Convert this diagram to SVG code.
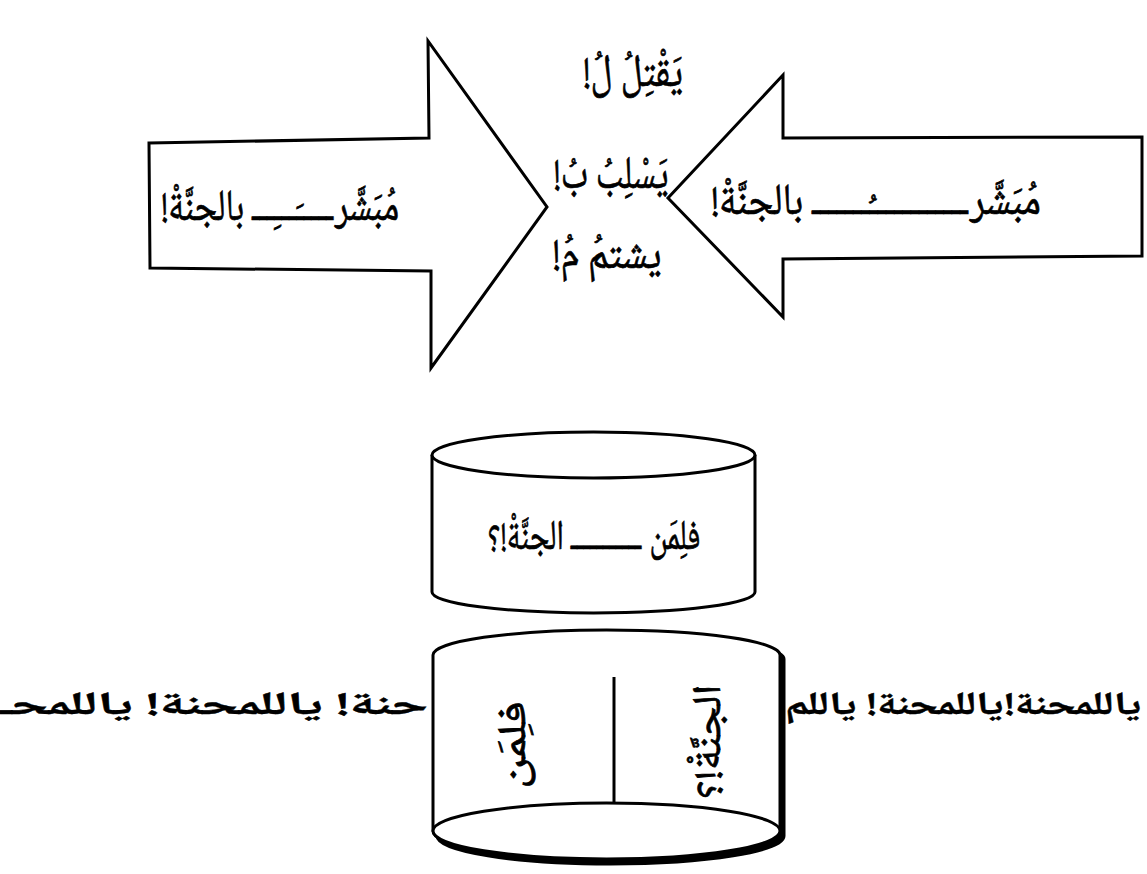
<svg xmlns="http://www.w3.org/2000/svg" width="1147" height="874" viewBox="0 0 1147 874">
  <style>
    .shape { fill: #ffffff; stroke: #000000; stroke-width: 3; stroke-linejoin: miter; }
    .ar { font-family: "Noto Naskh Arabic", "Noto Sans Arabic", "DejaVu Sans", sans-serif; fill: #000000; stroke: #000000; stroke-width: 0.7; direction: rtl; }
    .big { font-size: 44px; }
    .ctr { font-size: 46px; }
    .mid { font-size: 42px; }
    .band { font-size: 32px; font-weight: bold; stroke-width: 0.4; }
    .vert { font-size: 40px; }
  </style>
  <rect x="0" y="0" width="1147" height="874" fill="#ffffff"/>

  <g id="arrow-left">
    <polygon class="shape" points="149,143 429,138 428,41 547,207 431,368 431,271 150,268"/>
    <text class="ar big" x="280" y="220" text-anchor="middle" textLength="238" lengthAdjust="spacingAndGlyphs">مُبَشَّرـــــَـــِـــ بالجنَّةْ!</text>
  </g>

  <g id="arrow-right">
    <polygon class="shape" points="1142,137 783,138 783,75 668,198 783,317 783,259 1142,256"/>
    <text class="ar big" x="876" y="214" text-anchor="middle" textLength="330" lengthAdjust="spacingAndGlyphs">مُبَشَّرــــــــــــُـــــــ بالجنَّةْ!</text>
  </g>

  <g id="center-words">
    <text class="ar ctr" x="633" y="86" text-anchor="middle" textLength="100" lengthAdjust="spacingAndGlyphs">يَقْتِلُ لُ!</text>
    <text class="ar ctr" x="611" y="188" text-anchor="middle" textLength="115" lengthAdjust="spacingAndGlyphs">يَسْلِبُ بُ!</text>
    <text class="ar ctr" x="607" y="268" text-anchor="middle" textLength="109" lengthAdjust="spacingAndGlyphs">يشتمُ مُ!</text>
  </g>

  <g id="cylinder-top">
    <path class="shape" d="M432,455 L432,592 A161.5,21 0 0 0 755,592 L755,455"/>
    <ellipse class="shape" cx="593.5" cy="455" rx="161.5" ry="23"/>
    <text class="ar mid" x="594" y="549" text-anchor="middle" textLength="213" lengthAdjust="spacingAndGlyphs">فلِمَن ـــــــــــ الجنَّةْ!؟</text>
  </g>

  <g id="band-text">
    <text class="ar band" x="214" y="714" text-anchor="middle" textLength="428" lengthAdjust="spacingAndGlyphs">حنة! ياللمحنة! ياللمحـ</text>
    <text class="ar band" x="963" y="714" text-anchor="middle" textLength="356" lengthAdjust="spacingAndGlyphs">ياللمحنة!ياللمحنة! ياللم</text>
  </g>

  <g id="cylinder-bottom">
    <path d="M437,659 A173.5,25 0 0 1 784,659 L784,836 A173.5,28 0 0 1 437,836 Z" fill="#000000" stroke="#000000" stroke-width="3"/>
    <path class="shape" d="M433,655 A173.5,25 0 0 1 780,655 L780,831 A173.5,28 0 0 1 433,831 Z"/>
    <ellipse class="shape" cx="606.5" cy="831" rx="173.5" ry="28"/>
    <line x1="614" y1="677" x2="614" y2="803" stroke="#000000" stroke-width="3"/>
    <text class="ar vert" transform="translate(525,745) rotate(-90)" text-anchor="middle" textLength="88" lengthAdjust="spacingAndGlyphs">فلِمَن</text>
    <text class="ar vert" transform="translate(720,742) rotate(-90)" text-anchor="middle" textLength="115" lengthAdjust="spacingAndGlyphs">الجنَّةْ!؟</text>
  </g>
</svg>
